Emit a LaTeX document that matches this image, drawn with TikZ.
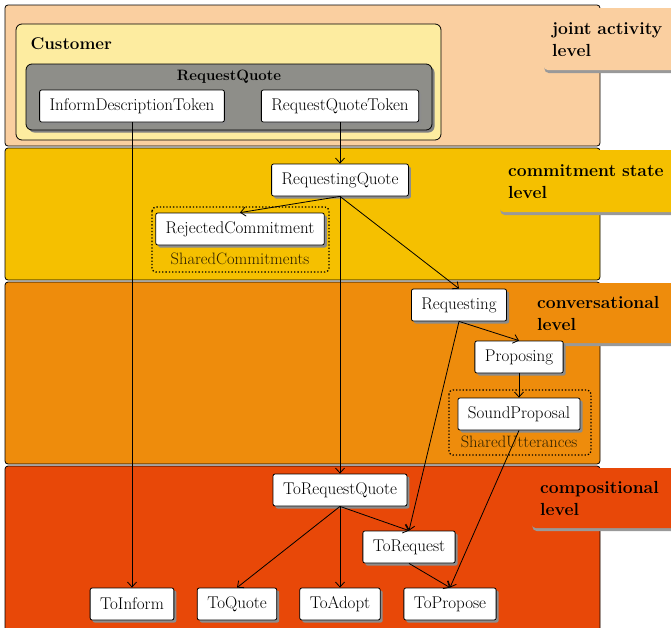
\documentclass[tikz,border=0pt]{standalone}
\usepackage{tikz}
\usetikzlibrary{arrows.meta,shadows,positioning}

\definecolor{jointcol}{RGB}{250,207,160}
\definecolor{commitcol}{RGB}{245,192,0}
\definecolor{convcol}{RGB}{238,140,12}
\definecolor{compcol}{RGB}{232,72,8}
\definecolor{custcol}{RGB}{253,236,160}
\definecolor{rolecol}{RGB}{142,142,137}
\definecolor{grouptext}{RGB}{45,32,0}

\tikzset{
  state/.style={draw, fill=white, rounded corners=2pt, line width=0.8pt, inner xsep=10pt,
    minimum height=32pt, font=\fontsize{17}{19}\selectfont,
    drop shadow={shadow xshift=2.5pt, shadow yshift=-2.5pt, fill=black!45, opacity=1}},
  band/.style={draw, line width=0.8pt, rounded corners=3pt},
  leveltab/.style={anchor=north west, rounded corners=5pt, text width=170pt, inner xsep=9pt,
    minimum height=62pt, align=left, font=\fontsize{17.5}{22}\selectfont\bfseries,
    drop shadow={shadow xshift=1pt, shadow yshift=-3pt, fill=black!40, opacity=1}},
  store/.style={draw, dotted, line width=1.3pt, rounded corners=4pt},
  storelabel/.style={text=grouptext, font=\fontsize{16.5}{18}\selectfont},
  flow/.style={->, line width=0.8pt}
}

\begin{document}
\begin{tikzpicture}[x=1pt, y=-1pt, >={Straight Barb[length=5pt,width=9pt]}]
    \useasboundingbox (0,0) rectangle (671,627);
    % level bands
    \draw[band, fill=jointcol]  (5,5)   rectangle (600,146);
    \draw[band, fill=commitcol] (5,148) rectangle (600,280);
    \draw[band, fill=convcol]   (5,282) rectangle (600,464);
    \draw[band, fill=compcol]   (5,466) rectangle (600,640);
    % level names
    \node[leveltab, fill=jointcol]  (jointlvl)  at (543,8)   {joint activity\\level};
    \node[leveltab, fill=commitcol] (commitlvl) at (499,150) {commitment state\\level};
    \node[leveltab, fill=convcol, minimum height=60pt]   (convlvl) at (528,283) {conversational\\level};
    \node[leveltab, fill=compcol, minimum height=60pt]   (complvl) at (531,468) {compositional\\level};

    % customer and its role
    \draw[line width=0.8pt, rounded corners=6pt, fill=custcol] (16,24) rectangle (441,140);
    \node[anchor=west, font=\fontsize{17}{20}\selectfont\bfseries] (custname) at (27,44) {Customer};
    \draw[line width=0.8pt, rounded corners=6pt, fill=rolecol,
      drop shadow={shadow xshift=2.5pt, shadow yshift=-2.5pt, fill=black!50, opacity=1}] (26,64) rectangle (432,130);
    \node[font=\fontsize{15}{18}\selectfont\bfseries] (rolename) at (229,77) {RequestQuote};

    % shared stores
    \draw[store] (152,207) rectangle (329,272);
    \node[storelabel] (sclabel) at (240,259) {SharedCommitments};
    \draw[store] (449,390) rectangle (591,455);
    \node[storelabel] (sulabel) at (519,442) {SharedUtterances};

    % states
    \node[state] (idt)  at (132,106) {InformDescriptionToken};
    \node[state] (rqt)  at (340,106) {RequestQuoteToken};
    \node[state] (rq)   at (340,180) {RequestingQuote};
    \node[state] (rc)   at (240,229) {RejectedCommitment};
    \node[state] (req)  at (459,305) {Requesting};
    \node[state] (prop) at (519,357) {Proposing};
    \node[state] (sp)   at (519,414) {SoundProposal};
    \node[state] (trq)  at (340,490) {ToRequestQuote};
    \node[state] (tr)   at (409,547) {ToRequest};
    \node[state] (ti)   at (132,604) {ToInform};
    \node[state] (tq)   at (237,604) {ToQuote};
    \node[state] (ta)   at (340,604) {ToAdopt};
    \node[state] (tp)   at (450,604) {ToPropose};

    % refinements
    \foreach \from/\to in {idt/ti, rqt/rq, rq/rc, rq/req, rq/trq, req/prop, req/tr,
                           prop/sp, sp/tp, trq/tr, trq/tq, trq/ta, tr/tp}
      \draw[flow] (\from.south) -- (\to.north);
\end{tikzpicture}
\end{document}
